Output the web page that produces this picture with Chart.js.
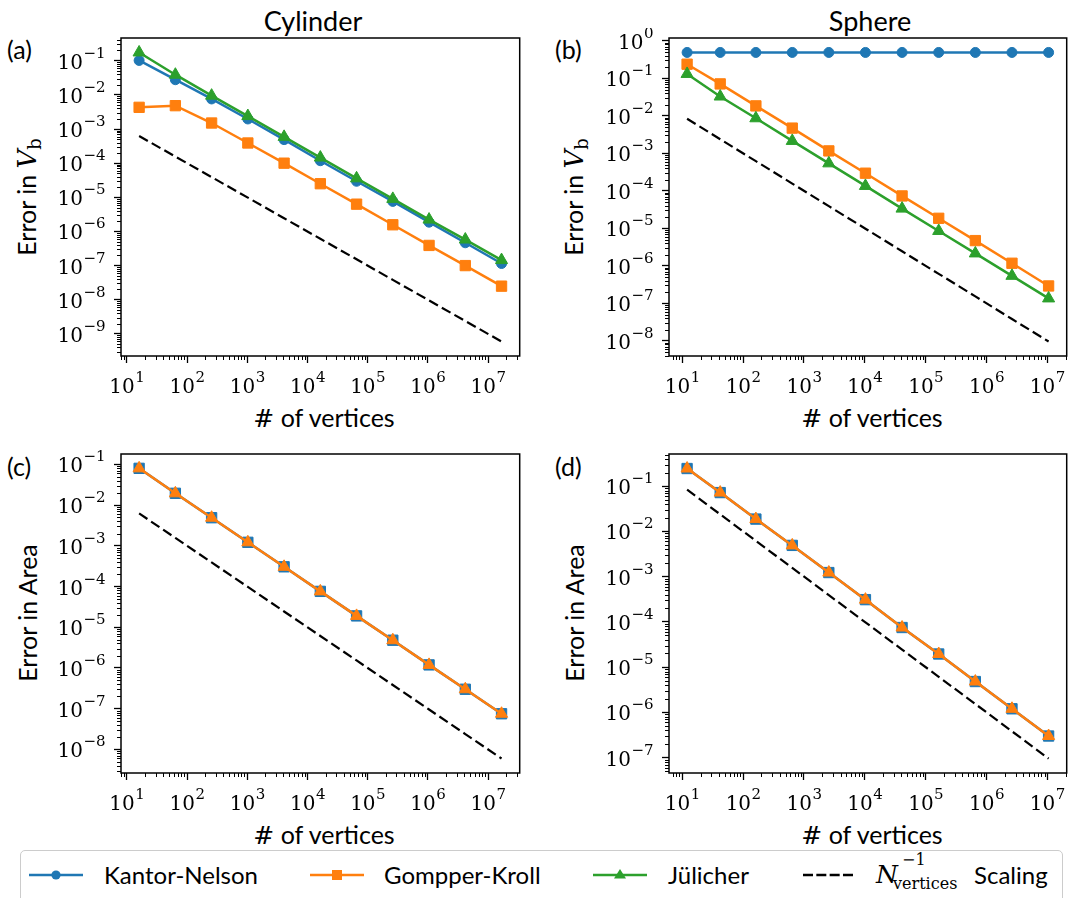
<!DOCTYPE html>
<html>
<head>
<meta charset="utf-8">
<script src="https://cdn.jsdelivr.net/npm/chart.js@4.4.0/dist/chart.umd.min.js"></script>
<style>
  html, body { margin: 0; padding: 0; background: #fff; }
  body { width: 1075px; height: 898px; position: relative; overflow: hidden; }
  canvas { position: absolute; }
  .txt { position: absolute; font-family: Lato, sans-serif; color: #000; white-space: nowrap; line-height: 1; }
  .title { font-size: 27px; transform: translateX(-50%); }
  .plab { font-size: 25px; }
  .xlab { font-size: 25px; transform: translate(-50%, -50%); }
  .ylab { font-size: 25px; transform: translate(-50%, -50%) rotate(-90deg); }
  #legend { position: absolute; left: 20px; top: 850px; width: 1041px; height: 60px;
            border: 1.3px solid #cccccc; border-radius: 5px; background: #fff; }
  .leg { position: absolute; font-family: Lato, sans-serif; font-size: 24px; line-height: 1; white-space: nowrap; }
  .handle { position: absolute; }
  .txt .m, .leg.m { font-family: 'DejaVu Serif', serif; font-style: normal; }
  .txt .mi, .leg.mi { font-family: 'DejaVu Serif', serif; font-style: italic; }
</style>
</head>
<body>

<div class="txt title" style="left:313px; top:7px;">Cylinder</div>
<div class="txt title" style="left:870px; top:7px;">Sphere</div>

<div class="txt plab" style="left:7px; top:37px;">(a)</div>
<div class="txt plab" style="left:555px; top:37px;">(b)</div>
<div class="txt plab" style="left:7px; top:454px;">(c)</div>
<div class="txt plab" style="left:555px; top:454px;">(d)</div>

<div class="txt ylab" style="left:27px; top:197px;">Error in <span class="mi" style="font-size:26px;">V</span><span class="m" style="font-size:18px; position:relative; top:5px;">b</span></div>
<div class="txt ylab" style="left:574px; top:197px;">Error in <span class="mi" style="font-size:26px;">V</span><span class="m" style="font-size:18px; position:relative; top:5px;">b</span></div>
<div class="txt ylab" style="left:27px; top:613px;">Error in Area</div>
<div class="txt ylab" style="left:574px; top:613px;">Error in Area</div>

<div class="txt xlab" style="left:324px; top:418px;"><span class="m">#</span> of vertices</div>
<div class="txt xlab" style="left:872px; top:418px;"><span class="m">#</span> of vertices</div>
<div class="txt xlab" style="left:324px; top:835px;"><span class="m">#</span> of vertices</div>
<div class="txt xlab" style="left:872px; top:835px;"><span class="m">#</span> of vertices</div>

<canvas id="cA"></canvas>
<canvas id="cB"></canvas>
<canvas id="cC"></canvas>
<canvas id="cD"></canvas>

<div id="legend"></div>
<svg class="handle" style="left:29px; top:865px;" width="56" height="20">
  <line x1="0" y1="10" x2="54" y2="10" stroke="#1f77b4" stroke-width="2.5"/>
  <circle cx="27" cy="10" r="4.6" fill="#1f77b4"/>
</svg>
<div class="leg" style="left:104px; top:863px;">Kantor-Nelson</div>
<svg class="handle" style="left:310px; top:865px;" width="56" height="20">
  <line x1="0" y1="10" x2="54" y2="10" stroke="#ff7f0e" stroke-width="2.5"/>
  <rect x="22" y="5" width="10" height="10" fill="#ff7f0e"/>
</svg>
<div class="leg" style="left:384px; top:863px;">Gompper-Kroll</div>
<svg class="handle" style="left:593px; top:865px;" width="56" height="20">
  <line x1="0" y1="10" x2="54" y2="10" stroke="#2ca02c" stroke-width="2.5"/>
  <polygon points="27,4 33,13.5 21,13.5" fill="#2ca02c"/>
</svg>
<div class="leg" style="left:668px; top:863px;">Jülicher</div>
<svg class="handle" style="left:803px; top:865px;" width="52" height="20">
  <line x1="0" y1="10" x2="50" y2="10" stroke="#000" stroke-width="2.3" stroke-dasharray="10 3.33"/>
</svg>
<div class="leg mi" style="left:876px; top:862px; font-size:25px;">N</div>
<div class="leg m" style="left:902px; top:852px; font-size:16px;">−1</div>
<div class="leg m" style="left:893px; top:876px; font-size:16px;">vertices</div>
<div class="leg" style="left:974px; top:863px;">Scaling</div>

<script>
// number of vertices
const cylVerts = [16, 64, 256, 1024, 4096, 16384, 65536, 262144, 1048576, 4194304, 16777216];
const sphVerts = [12, 42, 162, 642, 2562, 10242, 40962, 163842, 655362, 2621442, 10485762];

// (a) cylinder, error in V_b
const cylVolKN  = [0.102, 0.0278, 0.0076, 0.00197, 4.9e-4, 1.18e-4, 2.95e-5, 7.6e-6, 1.87e-6, 4.66e-7, 1.15e-7];
const cylVolGK  = [0.00432, 0.00483, 0.0015, 3.9e-4, 1.0e-4, 2.5e-5, 6.3e-6, 1.57e-6, 3.9e-7, 1.0e-7, 2.5e-8];
const cylVolJ   = [0.175, 0.039, 0.0095, 0.0024, 5.9e-4, 1.46e-4, 3.6e-5, 9.0e-6, 2.23e-6, 5.8e-7, 1.45e-7];
const cylVolRef = [6.25e-4, 1.56e-4, 3.91e-5, 9.77e-6, 2.44e-6, 6.1e-7, 1.53e-7, 3.81e-8, 9.54e-9, 2.38e-9, 5.96e-10];

// (b) sphere, error in V_b
const sphVolKN  = [0.49, 0.49, 0.49, 0.49, 0.49, 0.49, 0.49, 0.49, 0.49, 0.49, 0.49];
const sphVolGK  = [0.238, 0.071, 0.0184, 0.0047, 0.00116, 2.95e-4, 7.3e-5, 1.85e-5, 4.7e-6, 1.17e-6, 2.9e-7];
const sphVolJ   = [0.131, 0.0327, 0.0086, 0.00214, 5.4e-4, 1.35e-4, 3.35e-5, 8.5e-6, 2.14e-6, 5.4e-7, 1.35e-7];
const sphVolRef = [8.33e-3, 2.38e-3, 6.17e-4, 1.56e-4, 3.9e-5, 9.76e-6, 2.44e-6, 6.1e-7, 1.53e-7, 3.81e-8, 9.54e-9];

// (c) cylinder, error in area
const cylAreaKN  = [0.08, 0.0195, 0.0049, 1.22e-3, 3.05e-4, 7.6e-5, 1.9e-5, 4.8e-6, 1.19e-6, 3.0e-7, 7.5e-8];
const cylAreaGK  = [0.08, 0.0195, 0.0049, 1.22e-3, 3.05e-4, 7.6e-5, 1.9e-5, 4.8e-6, 1.19e-6, 3.0e-7, 7.5e-8];
const cylAreaRef = [6.25e-3, 1.56e-3, 3.91e-4, 9.77e-5, 2.44e-5, 6.1e-6, 1.53e-6, 3.81e-7, 9.54e-8, 2.38e-8, 5.96e-9];

// (d) sphere, error in area
const sphAreaKN  = [0.245, 0.072, 0.0187, 0.0049, 0.00123, 3.1e-4, 7.5e-5, 1.95e-5, 4.8e-6, 1.2e-6, 3.0e-7];
const sphAreaGK  = [0.245, 0.072, 0.0187, 0.0049, 0.00123, 3.1e-4, 7.5e-5, 1.95e-5, 4.8e-6, 1.2e-6, 3.0e-7];
const sphAreaRef = [0.0833, 0.0238, 6.17e-3, 1.56e-3, 3.9e-4, 9.76e-5, 2.44e-5, 6.1e-6, 1.53e-6, 3.81e-7, 9.54e-8];

// tick values (decades)
const xTicks  = [1e1, 1e2, 1e3, 1e4, 1e5, 1e6, 1e7];
const yTicksA = [1e-9, 1e-8, 1e-7, 1e-6, 1e-5, 1e-4, 1e-3, 1e-2, 1e-1];
const yTicksB = [1e-8, 1e-7, 1e-6, 1e-5, 1e-4, 1e-3, 1e-2, 1e-1, 1e0];
const yTicksC = [1e-8, 1e-7, 1e-6, 1e-5, 1e-4, 1e-3, 1e-2, 1e-1];
const yTicksD = [1e-7, 1e-6, 1e-5, 1e-4, 1e-3, 1e-2, 1e-1];

const BLUE = '#1f77b4', ORANGE = '#ff7f0e', GREEN = '#2ca02c';
const SERIF = "'DejaVu Serif', serif";

// "10" with a raised exponent, anchored right (y axis) or centred (x axis)
function drawPow10(ctx, v, x, baseline, align) {
    const e = String(Math.round(Math.log10(v))).replace('-', '−');
    ctx.font = '20px ' + SERIF;
    const wb = ctx.measureText('10').width;
    ctx.font = '15px ' + SERIF;
    const we = ctx.measureText(e).width;
    const x0 = align === 'right' ? x - wb - we : x - (wb + we) / 2;
    ctx.textAlign = 'left';
    ctx.textBaseline = 'alphabetic';
    ctx.font = '20px ' + SERIF;
    ctx.fillText('10', x0, baseline);
    ctx.font = '15px ' + SERIF;
    ctx.fillText(e, x0 + wb + 0.5, baseline - 11);
}

// box, minor ticks and decade labels, all placed with the chart's scales
const frame = {
    id: 'frame',
    afterDraw(chart) {
        const { ctx, chartArea: a, scales } = chart;
        ctx.save();
        ctx.strokeStyle = '#000';
        ctx.fillStyle = '#000';
        ctx.lineWidth = 1;
        ['x', 'y'].forEach(id => {
            const s = scales[id];
            const lo = Math.floor(Math.log10(s.min)), hi = Math.ceil(Math.log10(s.max));
            for (let d = lo; d <= hi; d++) {
                for (let m = 2; m < 10; m++) {
                    const v = m * Math.pow(10, d);
                    if (v < s.min || v > s.max) continue;
                    const p = Math.round(s.getPixelForValue(v)) + 0.5;
                    ctx.beginPath();
                    if (id === 'x') { ctx.moveTo(p, a.bottom); ctx.lineTo(p, a.bottom + 4); }
                    else { ctx.moveTo(a.left, p); ctx.lineTo(a.left - 4, p); }
                    ctx.stroke();
                }
            }
            s.ticks.forEach(t => {
                const p = s.getPixelForValue(t.value);
                if (id === 'x') drawPow10(ctx, t.value, p, a.bottom + 37, 'center');
                else drawPow10(ctx, t.value, a.left - 16, p + 8, 'right');
            });
        });
        ctx.lineWidth = 1.5;
        ctx.strokeRect(a.left, a.top, a.right - a.left, a.bottom - a.top);
        ctx.restore();
    }
};

const panels = [
    { canvas: 'cA', L: 121, R: 527, T: 38, B: 356, x: cylVerts, xMin: 8.0, xMax: 3.36e7, yMin: 2.25e-10, yMax: 0.4636, yTicks: yTicksA,
      series: [
        { y: cylVolKN, color: BLUE, marker: 'circle', r: 5 },
        { y: cylVolGK, color: ORANGE, marker: 'rect', r: 7.3 },
        { y: cylVolJ, color: GREEN, marker: 'triangle', r: 7 },
        { y: cylVolRef, color: '#000', dash: [10, 4.5] }
      ] },
    { canvas: 'cB', L: 669, R: 1074, T: 38, B: 356, x: sphVerts, xMin: 6.05, xMax: 2.08e7, yMin: 3.93e-9, yMax: 1.19, yTicks: yTicksB,
      series: [
        { y: sphVolKN, color: BLUE, marker: 'circle', r: 5 },
        { y: sphVolGK, color: ORANGE, marker: 'rect', r: 7.3 },
        { y: sphVolJ, color: GREEN, marker: 'triangle', r: 7 },
        { y: sphVolRef, color: '#000', dash: [10, 4.5] }
      ] },
    { canvas: 'cC', L: 121, R: 527, T: 454, B: 773, x: cylVerts, xMin: 8.0, xMax: 3.36e7, yMin: 2.63e-9, yMax: 0.18, yTicks: yTicksC,
      series: [
        { y: cylAreaKN, color: BLUE, marker: 'rect', r: 7.3 },
        { y: cylAreaGK, color: ORANGE, marker: 'triangle', r: 7 },
        { y: cylAreaRef, color: '#000', dash: [10, 4.5] }
      ] },
    { canvas: 'cD', L: 669, R: 1074, T: 454, B: 773, x: sphVerts, xMin: 6.05, xMax: 2.08e7, yMin: 4.57e-8, yMax: 0.513, yTicks: yTicksD,
      series: [
        { y: sphAreaKN, color: BLUE, marker: 'rect', r: 7.3 },
        { y: sphAreaGK, color: ORANGE, marker: 'triangle', r: 7 },
        { y: sphAreaRef, color: '#000', dash: [10, 4.5] }
      ] }
];

panels.forEach(p => {
    const cv = document.getElementById(p.canvas);
    cv.width = p.R - p.L + 111;
    cv.height = p.B - p.T + 60;
    cv.style.left = (p.L - 110) + 'px';
    cv.style.top = (p.T - 10) + 'px';

    new Chart(cv, {
        type: 'line',
        data: {
            datasets: p.series.map((s, i) => ({
                data: p.x.map((v, k) => ({ x: v, y: s.y[k] })),
                borderColor: s.color,
                backgroundColor: s.color,
                borderWidth: s.dash ? 2.2 : 2.5,
                borderDash: s.dash || [],
                pointStyle: s.marker || false,
                pointRadius: s.marker ? s.r : 0,
                pointBorderWidth: 1,
                pointBorderColor: s.color,
                pointBackgroundColor: s.color,
                tension: 0,
                fill: false,
                clip: false,
                order: p.series.length - i
            }))
        },
        options: {
            responsive: false,
            animation: false,
            devicePixelRatio: 1,
            layout: { padding: { top: 10, right: 1, left: 0, bottom: 0 } },
            plugins: { legend: { display: false }, tooltip: { enabled: false } },
            scales: {
                x: {
                    type: 'logarithmic', min: p.xMin, max: p.xMax,
                    afterBuildTicks: s => { s.ticks = xTicks.map(v => ({ value: v })); },
                    afterFit: s => { s.height = 50; s.paddingLeft = 0; s.paddingRight = 0; },
                    border: { display: false },
                    grid: { drawOnChartArea: false, tickLength: 7, tickColor: '#000', tickWidth: 1.3 },
                    ticks: { display: false, autoSkip: false }
                },
                y: {
                    type: 'logarithmic', min: p.yMin, max: p.yMax,
                    afterBuildTicks: s => { s.ticks = p.yTicks.map(v => ({ value: v })); },
                    afterFit: s => { s.width = 110; s.paddingTop = 0; s.paddingBottom = 0; },
                    border: { display: false },
                    grid: { drawOnChartArea: false, tickLength: 7, tickColor: '#000', tickWidth: 1.3 },
                    ticks: { display: false, autoSkip: false }
                }
            }
        },
        plugins: [frame]
    });
});
</script>
</body>
</html>
